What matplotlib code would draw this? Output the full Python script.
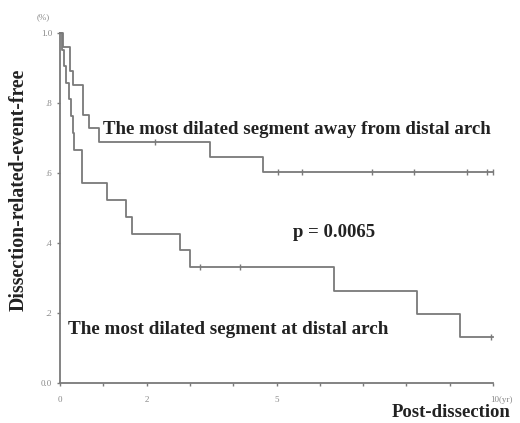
import matplotlib
matplotlib.use("Agg")
import matplotlib.pyplot as plt
import numpy as np

# Kaplan-Meier step data (years, survival fraction)
away_times = [0.0, 0.08, 0.22, 0.30, 0.53, 0.67, 0.90, 3.46, 4.69, 10.0]
away_surv = [1.0, 0.96, 0.89, 0.851, 0.766, 0.729, 0.689, 0.646, 0.603, 0.603]
away_censor_t = [2.19, 5.03, 5.59, 7.20, 8.18, 9.40, 9.86, 10.0]

arch_times = [0.0, 0.05, 0.10, 0.15, 0.20, 0.25, 0.29, 0.32, 0.51, 1.09, 1.52,
              1.66, 2.76, 3.00, 6.33, 8.24, 9.24, 10.0]
arch_surv = [1.0, 0.952, 0.905, 0.857, 0.810, 0.762, 0.714, 0.666, 0.571, 0.523,
             0.474, 0.426, 0.380, 0.331, 0.263, 0.197, 0.131, 0.131]
arch_censor_t = [3.23, 4.16, 9.95]

xtick_pos = list(range(0, 11))
xtick_labels = ["0", "", "2", "", "", "5", "", "", "", "", ""]
ytick_pos = [0.0, 0.2, 0.4, 0.6, 0.8, 1.0]
ytick_labels = ["0.0", ".2", ".4", ".6", ".8", "1.0"]

W, H = 520, 423
fig = plt.figure(figsize=(W / 100, H / 100), dpi=100)
ax = fig.add_axes([60 / W, 1 - 383 / H, (493 - 60) / W, (383 - 33) / H])

lc = "#7a7a7a"
serif = ["Liberation Serif", "DejaVu Serif"]


def surv_at(times, surv, t):
    idx = np.searchsorted(times, t, side="right") - 1
    return surv[idx]


ax.step(away_times, away_surv, where="post", color=lc, lw=1.3, clip_on=False)
ax.step(arch_times, arch_surv, where="post", color=lc, lw=1.3, clip_on=False)
ax.plot(away_censor_t, [surv_at(away_times, away_surv, t) for t in away_censor_t],
        ls="none", marker="|", ms=4, mew=1.0, color=lc, clip_on=False)
ax.plot(arch_censor_t, [surv_at(arch_times, arch_surv, t) for t in arch_censor_t],
        ls="none", marker="|", ms=4, mew=1.0, color=lc, clip_on=False)

ax.set_xlim(0, 10)
ax.set_ylim(0, 1)
for s in ["top", "right"]:
    ax.spines[s].set_visible(False)
for s in ["left", "bottom"]:
    ax.spines[s].set_color(lc)
    ax.spines[s].set_linewidth(1.3)

ax.set_xticks(xtick_pos)
ax.set_xticklabels(xtick_labels, fontsize=6.5, color="#888888", family=serif)
ax.set_yticks(ytick_pos)
ax.set_yticklabels(ytick_labels, fontsize=6.5, color="#888888", family=serif)
ax.tick_params(axis="x", length=2.5, width=1.0, color=lc, direction="out", pad=7)
ax.tick_params(axis="y", length=2.5, width=1.0, color=lc, direction="out", pad=3)

ax.text(0.99, 0.725, "The most dilated segment away from distal arch",
        fontsize=13.6, fontweight="bold", family=serif, color="#222222",
        va="center", ha="left")
ax.text(6.33, 0.43, "p = 0.0065", fontsize=13.5, fontweight="bold", family=serif,
        color="#222222", va="center", ha="center")
ax.text(0.18, 0.154, "The most dilated segment at distal arch",
        fontsize=13.8, fontweight="bold", family=serif, color="#222222",
        va="center", ha="left")

fig.text(19 / W, 1 - 190 / H, "Dissection-related-event-free", rotation=90,
         fontsize=14.2, fontweight="bold", family=serif, color="#222222",
         va="center", ha="center")
fig.text(43 / W, 1 - 17 / H, "(%)", fontsize=6.5, family=serif, color="#888888",
         va="center", ha="center")
fig.text(501 / W, 1 - 400 / H, "10(yr)", fontsize=6.5, family=serif, color="#888888",
         va="center", ha="center")
fig.text(451 / W, 1 - 412 / H, "Post-dissection", fontsize=13.5, fontweight="bold",
         family=serif, color="#222222", va="center", ha="center")

fig.savefig("out.png", dpi=100)
